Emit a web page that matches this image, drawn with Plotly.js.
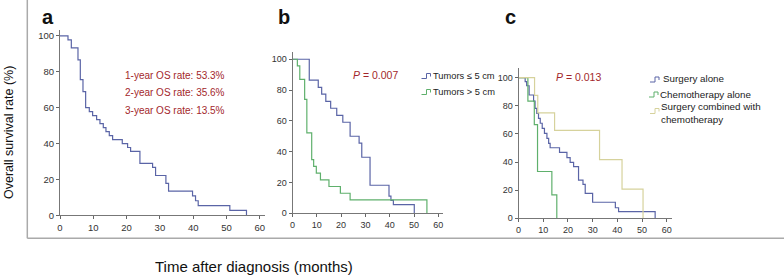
<!DOCTYPE html>
<html>
<head>
<meta charset="utf-8">
<script src="https://cdn.plot.ly/plotly-3.0.1.min.js"></script>
<style>html,body{margin:0;padding:0;background:#fff;}#chart{width:784px;height:275px;}</style>
</head>
<body>
<div id="chart"></div>
<script>
// ---- Data ----
// Panel a: overall cohort
const aTime = [0, 2.4, 3.4, 5.4, 6.1, 6.9, 7.7, 8.8, 9.8, 11, 12, 13, 13.8, 14.8, 15.8, 18.7, 20.3, 21.2, 24, 27.8, 28.7, 31.8, 32.6, 39.8, 40.7, 41.5, 51, 56];
const aSurv = [100, 97.8, 93.3, 86.7, 75.6, 68.9, 60, 57.8, 55.6, 53.3, 51.1, 48.9, 46.7, 44.4, 42.2, 40, 37.8, 35.6, 28.9, 26.7, 22.2, 17.8, 13.5, 10.8, 8.1, 5.4, 2.7, 0];
const aNotes = ["1-year OS rate: 53.3%", "2-year OS rate: 35.6%", "3-year OS rate: 13.5%"];

// Panel b: tumour size
const bNames = ["Tumors \u2264 5 cm", "Tumors > 5 cm"];
const bTime1 = [0, 6.9, 10.6, 12, 13.7, 15.7, 18.2, 20.7, 23.7, 27.4, 28.5, 31.9, 39.7, 40.5, 41.5, 50.1];
const bSurv1 = [100, 86.4, 81.8, 77.3, 72.7, 68.2, 63.6, 59.1, 50, 45.5, 36.4, 18.2, 11.2, 8.4, 5.6, 0];
const bTime2 = [0, 2, 3, 5, 5.9, 7.9, 8.7, 9.8, 11.5, 15, 19.7, 23.7, 55.3];
const bSurv2 = [100, 95.7, 87, 73.9, 52.2, 34.8, 30.4, 26.1, 21.7, 17.4, 13, 8.7, 0];
const bP = "0.007";

// Panel c: treatment
const cNames = ["Surgery alone", "Chemotherapy alone", "Surgery combined with<br>chemotherapy"];
const cTime1 = [0, 2.7, 3.3, 4.3, 6.1, 6.7, 7.4, 8.1, 8.8, 9.6, 10.5, 11.5, 12.2, 12.8, 16.6, 19.6, 20.9, 22.3, 24.3, 26.1, 27, 30, 39.2, 40.5, 55.3];
const cSurv1 = [100, 97.2, 94.3, 87.7, 83.4, 78.2, 74.7, 71.1, 67.6, 64, 60.4, 56.9, 53.3, 50.2, 46.9, 43.1, 39.8, 36.7, 27.2, 24.2, 17.8, 11.4, 7.5, 4.7, 0];
const cTime2 = [0, 3.8, 6.4, 7.7, 13.5, 15.5];
const cSurv2 = [100, 83.3, 66.7, 33.3, 16.7, 0];
const cTime3 = [0, 6.5, 7.8, 14.6, 32.8, 41.9, 50.4];
const cSurv3 = [100, 87.5, 75, 62.5, 41.7, 20.8, 0];
const cP = "0.013";

const xTicks = [0, 10, 20, 30, 40, 50, 60];
const yTicks = [0, 20, 40, 60, 80, 100];
const panelLetters = ["a", "b", "c"];
const xTitle = "Time after diagnosis (months)";
const yTitle = "Overall survival rate (%)";

// ---- Styling ----
const W = 784, H = 275;
const px = x => x / W;
const py = y => 1 - y / H;
const BLUE = "#5a64a6", GREEN = "#5fb06c", KHAKI = "#d6d29c", RED = "#a3272b";
const FONT = "Liberation Sans, Arial, sans-serif";

function step(x, y, color, xa, ya) {
  return {x: x, y: y, type: "scatter", mode: "lines", line: {shape: "hv", color: color, width: 1.2},
          xaxis: xa, yaxis: ya, hoverinfo: "skip", showlegend: false};
}

const data = [
  step(aTime, aSurv, BLUE, "x", "y"),
  step(bTime1, bSurv1, BLUE, "x2", "y2"),
  step(bTime2, bSurv2, GREEN, "x2", "y2"),
  step(cTime1, cSurv1, BLUE, "x3", "y3"),
  step(cTime2, cSurv2, GREEN, "x3", "y3"),
  step(cTime3, cSurv3, KHAKI, "x3", "y3")
];

function xax(l, r, rng, anchor, fs) {
  return {domain: [px(l), px(r)], range: rng, anchor: anchor, tickvals: xTicks, ticks: "outside", ticklen: 3,
          tickcolor: "#666", showline: true, linecolor: "#777", linewidth: 1, showgrid: false, zeroline: false,
          tickfont: {family: FONT, size: fs, color: "#333"}, fixedrange: true};
}
function yax(top, bottom, rng, anchor, fs) {
  return {domain: [py(bottom), py(top)], range: rng, anchor: anchor, tickvals: yTicks, ticks: "outside", ticklen: 3,
          tickcolor: "#666", showline: true, linecolor: "#777", linewidth: 1, showgrid: false, zeroline: false,
          tickfont: {family: FONT, size: fs, color: "#333"}, fixedrange: true};
}

function ann(x, y, text, opts) {
  return Object.assign({xref: "paper", yref: "paper", x: px(x), y: py(y), text: text, showarrow: false,
                        xanchor: "left", yanchor: "middle", font: {family: FONT, size: 10, color: "#222"}}, opts || {});
}

const annotations = [
  ann(48, 17, panelLetters[0], {xanchor: "center", font: {family: FONT, size: 20, color: "#111", weight: "bold"}}),
  ann(284, 17, panelLetters[1], {xanchor: "center", font: {family: FONT, size: 20, color: "#111", weight: "bold"}}),
  ann(510.5, 17, panelLetters[2], {xanchor: "center", font: {family: FONT, size: 20, color: "#111", weight: "bold"}}),
  ann(254, 266, xTitle, {xanchor: "center", font: {family: FONT, size: 15, color: "#111"}}),
  ann(9, 133, yTitle, {xanchor: "center", textangle: -90, font: {family: FONT, size: 12.5, color: "#111"}}),
  ann(123, 75, aNotes[0], {font: {family: FONT, size: 10, color: RED}}),
  ann(123, 92.5, aNotes[1], {font: {family: FONT, size: 10, color: RED}}),
  ann(123, 110, aNotes[2], {font: {family: FONT, size: 10, color: RED}}),
  ann(375, 75, "<i>P</i> = " + bP, {xanchor: "center", font: {family: FONT, size: 10.5, color: RED}}),
  ann(578, 77, "<i>P</i> = " + cP, {xanchor: "center", font: {family: FONT, size: 10.5, color: RED}}),
  ann(431, 75.5, bNames[0], {font: {family: FONT, size: 9.3, color: "#222"}}),
  ann(431, 91.5, bNames[1], {font: {family: FONT, size: 9.3, color: "#222"}}),
  ann(661, 78.5, cNames[0], {font: {family: FONT, size: 9.8, color: "#222"}}),
  ann(658, 94, cNames[1], {font: {family: FONT, size: 9.8, color: "#222"}}),
  ann(659, 113, cNames[2], {font: {family: FONT, size: 9.8, color: "#222"}, align: "left"})
];

function icon(x, y, color) {
  // small step glyph: low line, up, across, down
  const x0 = px(x), x1 = px(x + 5), x2 = px(x + 9), y0 = py(y + 2.5), y1 = py(y - 2.5);
  return {type: "path", xref: "paper", yref: "paper",
          path: `M ${x0} ${y0} H ${x1} V ${y1} H ${x2} V ${py(y + 0.5)}`,
          line: {color: color, width: 1}};
}

const shapes = [
  {type: "line", xref: "paper", yref: "paper", x0: px(27.3), x1: px(27.3), y0: py(0), y1: py(238.3), line: {color: "#aaa", width: 1.5}},
  {type: "line", xref: "paper", yref: "paper", x0: px(27.3), x1: px(784), y0: py(238.3), y1: py(238.3), line: {color: "#aaa", width: 1.5}},
  icon(421.5, 76, BLUE),
  icon(421.5, 92, GREEN),
  icon(650, 79.5, BLUE),
  icon(649, 94.5, GREEN),
  icon(650, 111, KHAKI)
];

const layout = {
  width: W, height: H, margin: {l: 0, r: 0, t: 0, b: 0},
  paper_bgcolor: "#fff", plot_bgcolor: "rgba(0,0,0,0)", showlegend: false,
  font: {family: FONT},
  xaxis: xax(60, 264.8, [0, 61.5], "y", 9.5),
  yaxis: yax(30, 215.3, [0, 103.3], "x", 9.5),
  xaxis2: xax(292.5, 443.2, [0, 62], "y2", 9),
  yaxis2: yax(51.7, 213.3, [0, 104.9], "x2", 9),
  xaxis3: xax(518.5, 671.7, [0, 62], "y3", 9),
  yaxis3: yax(68.3, 218.3, [0, 106.7], "x3", 9),
  annotations: annotations, shapes: shapes
};

Plotly.newPlot("chart", data, layout, {displayModeBar: false, staticPlot: true});
</script>
</body>
</html>
